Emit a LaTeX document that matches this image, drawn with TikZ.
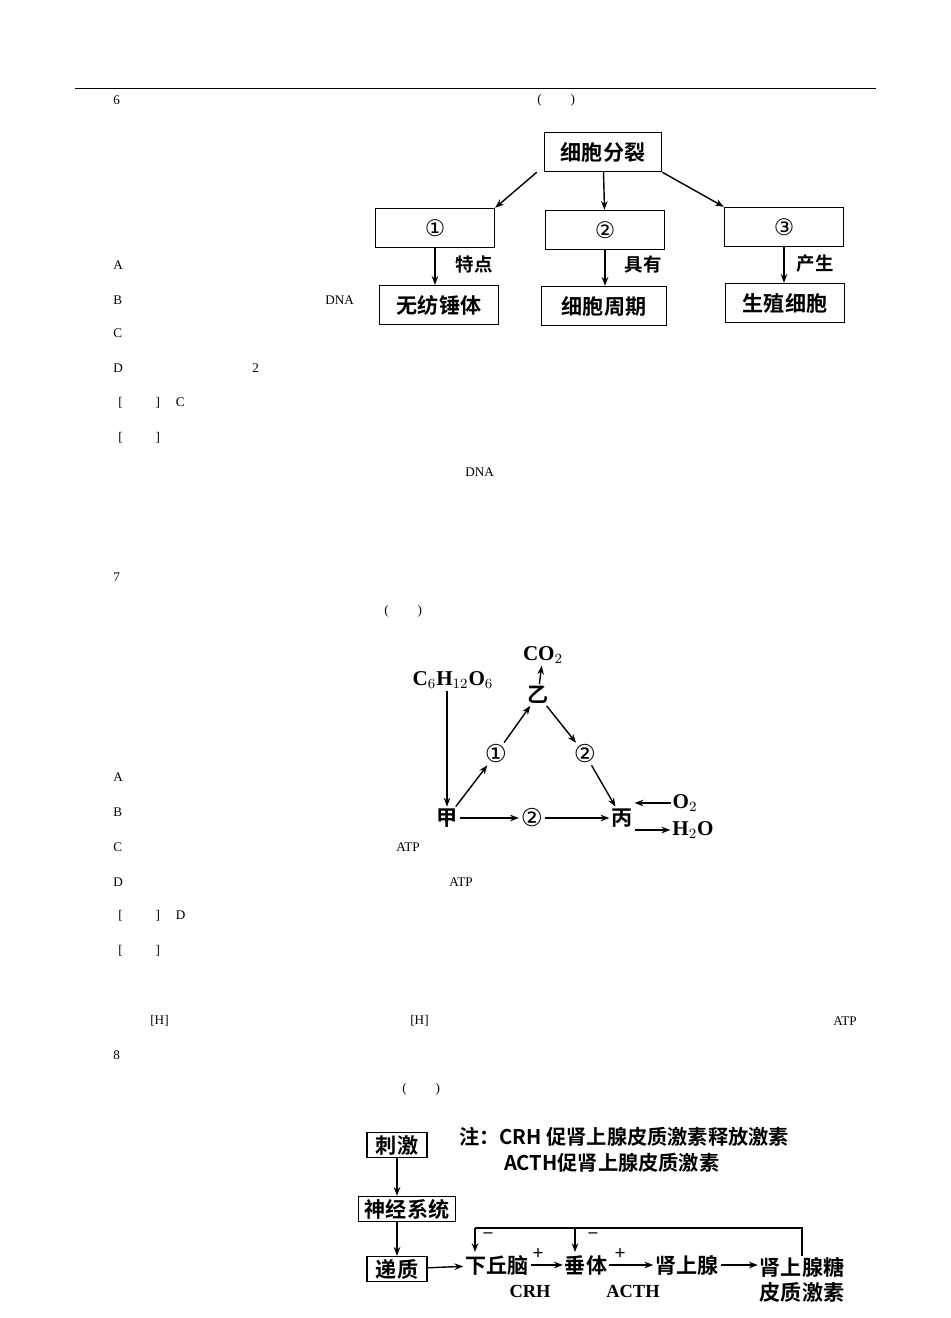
\documentclass[tikz,border=0pt]{standalone}
\usepackage{fontspec}
\setmainfont{Liberation Serif}
\newfontfamily\cjk{Noto Sans CJK SC}[BoldFont={Noto Sans CJK SC Bold}]
\newfontfamily\symfont{DejaVu Sans}
\usetikzlibrary{positioning,arrows.meta}
\tikzset{
  box/.style={rectangle, draw, thick, minimum width=2.38cm, minimum height=0.78cm, font=\cjk\bfseries\fontsize{12}{14}\selectfont},
  lab/.style={font=\cjk\bfseries\fontsize{10.5}{12}\selectfont},
  txt/.style={anchor=west, inner sep=0pt, font=\fontsize{7.5}{9}\selectfont},
  big/.style={font=\cjk\bfseries\fontsize{12}{14}\selectfont, inner sep=1pt},
  arr/.style={-{Stealth[length=5pt]}, thick}
}
\begin{document}
\begin{tikzpicture}[x=0.02cm, y=-0.02cm]
  \useasboundingbox (0,0) rectangle (950,1318);
  \draw (75,88) -- (876,88);

  % question text fragments
  \node [txt] (q6) at (113,100) {6};
  \node [txt] (q6b) at (537,100) {(\hspace{2.2em})};
  \node [txt] (a6) at (113,265) {A};
  \node [txt] (b6) at (113,300) {B};
  \node [txt] (b6dna) at (325,300) {DNA};
  \node [txt] (c6) at (113,333) {C};
  \node [txt] (d6) at (113,368) {D};
  \node [txt] (d6n) at (252,368) {2};
  \node [txt] (ans6) at (118,403) {[\hspace{2.5em}]\hspace{1.2em}C};
  \node [txt] (exp6) at (118,438) {[\hspace{2.5em}]};
  \node [txt] (exp6dna) at (465,472) {DNA};
  \node [txt] (q7) at (113,577) {7};
  \node [txt] (q7b) at (384,611) {(\hspace{2.2em})};
  \node [txt] (a7) at (113,777) {A};
  \node [txt] (b7) at (113,812) {B};
  \node [txt] (c7) at (113,847) {C};
  \node [txt] (c7atp) at (396,847) {ATP};
  \node [txt] (d7) at (113,882) {D};
  \node [txt] (d7atp) at (449,882) {ATP};
  \node [txt] (ans7) at (118,916) {[\hspace{2.5em}]\hspace{1.2em}D};
  \node [txt] (exp7) at (118,951) {[\hspace{2.5em}]};
  \node [txt] (h1) at (150,1021) {[H]};
  \node [txt] (h2) at (410,1021) {[H]};
  \node [txt] (atp3) at (833,1021) {ATP};
  \node [txt] (q8) at (113,1055) {8};
  \node [txt] (q8b) at (402,1089) {(\hspace{2.2em})};

  % diagram 1
  \node [box, minimum width=2.34cm] (division) at (603,152) {细胞分裂};
  \node [box, font=\symfont\fontsize{13}{14}\selectfont] (one) at (435,228) {①};
  \node [box, font=\symfont\fontsize{13}{14}\selectfont] (two) at (605,230) {②};
  \node [box, font=\symfont\fontsize{13}{14}\selectfont] (three) at (784,227) {③};
  \node [box, fill=white] (nospindle) at (439,305) {无纺锤体};
  \node [box, minimum width=2.5cm] (cycle) at (604,306) {细胞周期};
  \node [box] (germ) at (785,303) {生殖细胞};
  \draw [arr] ([xshift=-4pt]division.south west) -- (one.north east);
  \draw [arr] (division) -- (two);
  \draw [arr] (division.south east) -- (three.north west);
  \draw [arr] (one) -- (one |- nospindle.north);
  \draw [arr] (two) -- (two |- cycle.north);
  \draw [arr] (three) -- (three |- germ.north);
  \node [lab] (feature) at (474,264) {特点};
  \node [lab] (have) at (643,264) {具有};
  \node [lab] (produce) at (815,264) {产生};

  % diagram 2
  \node [big, font=\bfseries\fontsize{12}{14}\selectfont] (glucose) at (453,680) {C$_6$H$_{12}$O$_6$};
  \node [big, font=\bfseries\fontsize{12}{14}\selectfont] (co2) at (543,655) {CO$_2$};
  \node [big] (yi) at (538,695) {乙};
  \node [big, font=\symfont\fontsize{14}{14}\selectfont] (s1) at (496,754) {①};
  \node [big, font=\symfont\fontsize{14}{14}\selectfont] (s2) at (585,754) {②};
  \node [big] (jia) at (447,818) {甲};
  \node [big, font=\symfont\fontsize{14}{14}\selectfont] (s3) at (532,818) {②};
  \node [big] (bing) at (622,818) {丙};
  \node [big, font=\bfseries\fontsize{12}{14}\selectfont] (o2) at (685,803) {O$_2$};
  \node [big, font=\bfseries\fontsize{12}{14}\selectfont] (h2o) at (693,830) {H$_2$O};
  \draw [arr] (glucose.south -| jia) -- (jia);
  \draw [arr] (jia) -- (s1);
  \draw [arr] (s1) -- (yi);
  \draw [arr] (yi) -- (co2);
  \draw [arr] (yi) -- (s2);
  \draw [arr] (s2) -- (bing);
  \draw [arr] (jia) -- (s3);
  \draw [arr] (s3) -- (bing);
  \draw [arr] (o2.west) -- (bing.east |- o2.west);
  \draw [arr] (bing.east |- h2o.west) -- (h2o.west);

  % diagram 3
  \node [big, font=\cjk\bfseries\fontsize{11.5}{14}\selectfont, anchor=west] (note1) at (457,1137) {注：CRH 促肾上腺皮质激素释放激素};
  \node [big, font=\cjk\bfseries\fontsize{11.5}{14}\selectfont, anchor=west] (note2) at (502,1163) {ACTH促肾上腺皮质激素};
  \node [box, minimum width=1.2cm, minimum height=0.5cm, inner sep=1pt] (stim) at (397,1145) {刺激};
  \node [box, minimum width=1.95cm, minimum height=0.5cm, inner sep=1pt] (nerve) at (407,1209) {神经系统};
  \node [box, minimum width=1.2cm, minimum height=0.5cm, inner sep=1pt] (trans) at (397,1269) {递质};
  \node [big] (hypo) at (497,1265) {下丘脑};
  \node [big] (pit) at (586,1265) {垂体};
  \node [big] (adr) at (687,1265) {肾上腺};
  \node [big, align=center] (gluco) at (802,1280) {肾上腺糖\\皮质激素};
  \node [big, font=\bfseries\fontsize{10.5}{12}\selectfont] (crh) at (530,1291) {CRH};
  \node [big, font=\bfseries\fontsize{10.5}{12}\selectfont] (acth) at (633,1291) {ACTH};
  \node [big, font=\bfseries\fontsize{11}{12}\selectfont] (plus1) at (538,1254) {+};
  \node [big, font=\bfseries\fontsize{11}{12}\selectfont] (plus2) at (620,1254) {+};
  \node [big, font=\bfseries\fontsize{10}{12}\selectfont] (minus1) at (488,1235) {--};
  \node [big, font=\bfseries\fontsize{10}{12}\selectfont] (minus2) at (593,1235) {--};
  \coordinate (fbr) at (802,1228);
  \coordinate (fbl) at (475,1228);
  \coordinate (fbm) at (575,1228);
  \draw [arr] (stim) -- (stim |- nerve.north);
  \draw [arr] (nerve.south -| stim) -- (trans);
  \draw [arr] (trans) -- (hypo);
  \draw [arr] (hypo) -- (pit);
  \draw [arr] (pit) -- (adr);
  \draw [arr] (adr) -- (adr -| gluco.west);
  \draw [thick] (gluco.north) -- (fbr) -- (fbl);
  \draw [arr] (fbl) -- (475,1252);
  \draw [arr] (fbm) -- (575,1252);
\end{tikzpicture}
\end{document}
